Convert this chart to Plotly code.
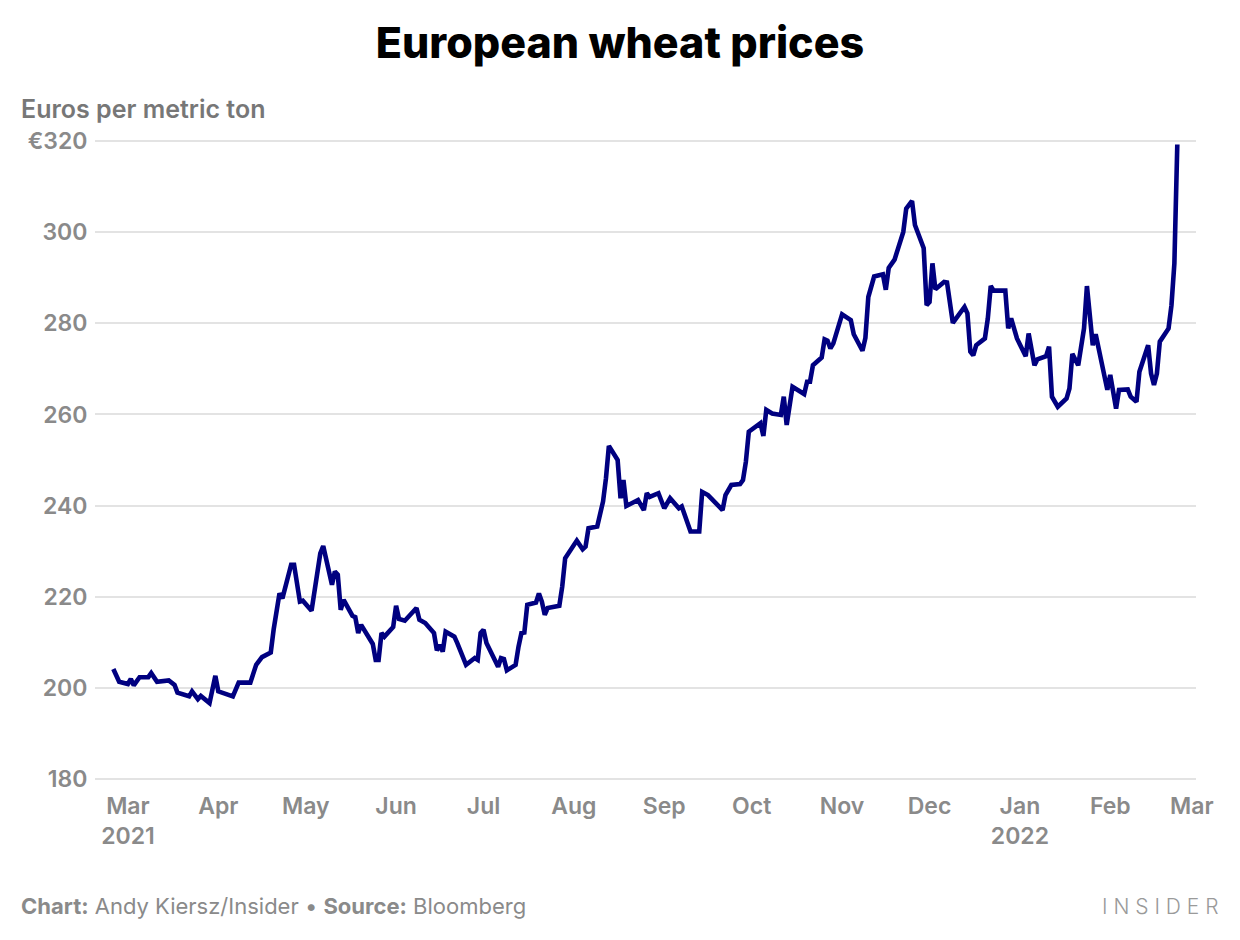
import plotly.graph_objects as go

dates = [
    "2021-02-24", "2021-02-26", "2021-03-01", "2021-03-02", "2021-03-03", "2021-03-05",
    "2021-03-08", "2021-03-09", "2021-03-11", "2021-03-15", "2021-03-17", "2021-03-18",
    "2021-03-22", "2021-03-23", "2021-03-25", "2021-03-26", "2021-03-29", "2021-03-31",
    "2021-04-01", "2021-04-06", "2021-04-08", "2021-04-12", "2021-04-14", "2021-04-16",
    "2021-04-19", "2021-04-20", "2021-04-22", "2021-04-23", "2021-04-26", "2021-04-27",
    "2021-04-29", "2021-04-30", "2021-05-03", "2021-05-06", "2021-05-07", "2021-05-10",
    "2021-05-11", "2021-05-12", "2021-05-13", "2021-05-14", "2021-05-17", "2021-05-18",
    "2021-05-19", "2021-05-20", "2021-05-24", "2021-05-25", "2021-05-26", "2021-05-27",
    "2021-05-28", "2021-05-31", "2021-06-01", "2021-06-02", "2021-06-04", "2021-06-08",
    "2021-06-09", "2021-06-11", "2021-06-14", "2021-06-15", "2021-06-16", "2021-06-17",
    "2021-06-18", "2021-06-21", "2021-06-22", "2021-06-25", "2021-06-28", "2021-06-29",
    "2021-06-30", "2021-07-01", "2021-07-02", "2021-07-06", "2021-07-07", "2021-07-08",
    "2021-07-09", "2021-07-12", "2021-07-13", "2021-07-14", "2021-07-15", "2021-07-16",
    "2021-07-19", "2021-07-20", "2021-07-21", "2021-07-22", "2021-07-23", "2021-07-27",
    "2021-07-28", "2021-07-29", "2021-08-02", "2021-08-04", "2021-08-05", "2021-08-06",
    "2021-08-09", "2021-08-10", "2021-08-11", "2021-08-12", "2021-08-13", "2021-08-16",
    "2021-08-17", "2021-08-18", "2021-08-19", "2021-08-23", "2021-08-25", "2021-08-26",
    "2021-08-27", "2021-08-30", "2021-09-01", "2021-09-03", "2021-09-06", "2021-09-07",
    "2021-09-10", "2021-09-13", "2021-09-14", "2021-09-16", "2021-09-21", "2021-09-22",
    "2021-09-24", "2021-09-27", "2021-09-28", "2021-09-29", "2021-09-30", "2021-10-04",
    "2021-10-05", "2021-10-06", "2021-10-08", "2021-10-11", "2021-10-12", "2021-10-13",
    "2021-10-15", "2021-10-19", "2021-10-20", "2021-10-21", "2021-10-22", "2021-10-25",
    "2021-10-26", "2021-10-27", "2021-10-28", "2021-10-29", "2021-11-01", "2021-11-04",
    "2021-11-05", "2021-11-08", "2021-11-09", "2021-11-10", "2021-11-12", "2021-11-15",
    "2021-11-16", "2021-11-17", "2021-11-19", "2021-11-22", "2021-11-23", "2021-11-25",
    "2021-11-26", "2021-11-29", "2021-11-30", "2021-12-01", "2021-12-02", "2021-12-03",
    "2021-12-06", "2021-12-07", "2021-12-09", "2021-12-13", "2021-12-14", "2021-12-15",
    "2021-12-16", "2021-12-17", "2021-12-20", "2021-12-21", "2021-12-22", "2021-12-23",
    "2021-12-27", "2021-12-28", "2021-12-29", "2021-12-31", "2022-01-03", "2022-01-04",
    "2022-01-06", "2022-01-07", "2022-01-10", "2022-01-11", "2022-01-12", "2022-01-14",
    "2022-01-17", "2022-01-18", "2022-01-19", "2022-01-21", "2022-01-23", "2022-01-24",
    "2022-01-26", "2022-01-27", "2022-01-31", "2022-02-01", "2022-02-03", "2022-02-04",
    "2022-02-07", "2022-02-08", "2022-02-10", "2022-02-11", "2022-02-14", "2022-02-15",
    "2022-02-16", "2022-02-17", "2022-02-18", "2022-02-21", "2022-02-22", "2022-02-23",
    "2022-02-24",
]

prices = [
    204.1, 201.3, 200.8, 201.9, 200.5, 202.3,
    202.3, 203.2, 201.3, 201.6, 200.6, 198.9,
    198.1, 199.2, 197.5, 198.2, 196.6, 202.6,
    199.2, 198.1, 201.1, 201.1, 205.0, 206.7,
    207.7, 212.8, 220.7, 219.6, 227.0, 227.0,
    218.9, 219.1, 216.9, 229.5, 231.1, 222.6,
    225.5, 224.8, 217.1, 219.3, 215.8, 215.5,
    212.0, 213.8, 209.6, 206.1, 206.1, 212.0,
    211.2, 213.3, 218.0, 215.1, 214.7, 217.5,
    214.9, 214.2, 212.0, 208.2, 209.4, 207.9,
    212.3, 211.2, 209.8, 205.0, 206.5, 206.1,
    212.0, 212.7, 209.8, 204.6, 206.5, 206.3,
    203.8, 205.0, 209.0, 212.0, 212.1, 218.2,
    218.7, 220.7, 218.9, 216.0, 217.5, 218.0,
    222.2, 228.4, 232.3, 230.4, 231.0, 235.0,
    235.4, 238.7, 240.9, 246.0, 253.1, 250.0,
    241.6, 245.6, 239.9, 241.2, 239.0, 242.7,
    241.9, 242.7, 239.4, 241.6, 239.4, 239.8,
    234.3, 234.3, 243.0, 242.3, 239.0, 242.3,
    244.5, 244.7, 245.6, 249.6, 256.2, 258.1,
    255.3, 261.0, 260.2, 259.9, 263.9, 257.7,
    266.1, 264.5, 267.2, 267.2, 270.8, 272.5,
    276.5, 276.2, 274.5, 275.6, 282.0, 280.7,
    277.6, 274.0, 276.8, 285.8, 290.3, 290.8,
    287.4, 292.2, 294.0, 300.1, 305.2, 306.9,
    301.6, 296.5, 284.0, 284.7, 293.2, 287.5,
    289.1, 289.0, 280.1, 283.6, 282.2, 273.8,
    273.0, 275.2, 276.7, 281.1, 288.2, 287.2,
    287.2, 278.9, 281.1, 276.7, 272.8, 277.8,
    270.8, 272.1, 272.8, 274.9, 263.9, 261.7,
    263.5, 265.7, 273.3, 270.8, 278.9, 288.2,
    275.2, 277.6, 265.4, 268.7, 261.3, 265.4,
    265.5, 263.9, 262.8, 269.4, 275.2, 269.0,
    266.5, 269.0, 276.0, 278.9, 284.0, 293.2,
    319.3,
]

y_tick_values = [180, 200, 220, 240, 260, 280, 300, 320]
y_tick_labels = ["180", "200", "220", "240", "260", "280", "300", "€320"]

x_tick_values = [
    "2021-03-01", "2021-04-01", "2021-05-01", "2021-06-01", "2021-07-01",
    "2021-08-01", "2021-09-01", "2021-10-01", "2021-11-01", "2021-12-01",
    "2022-01-01", "2022-02-01", "2022-03-01",
]
x_tick_labels = [
    "Mar<br>2021", "Apr", "May", "Jun", "Jul", "Aug", "Sep", "Oct", "Nov",
    "Dec", "Jan<br>2022", "Feb", "Mar",
]

GRAY = "#8a8a8a"
FONT = "Inter"

fig = go.Figure()
fig.add_trace(go.Scatter(
    x=dates, y=prices, mode="lines",
    line=dict(color="#000080", width=4.6),
    hoverinfo="skip",
))

fig.update_layout(
    width=1240, height=940,
    paper_bgcolor="white", plot_bgcolor="white",
    margin=dict(l=87, r=52, t=131, b=167),
    showlegend=False,
    font=dict(family=FONT, color=GRAY),
    title=dict(
        text="European wheat prices",
        x=0.4935, xanchor="center", xref="container",
        y=0.9628, yref="container", yanchor="middle",
        font=dict(family=FONT, size=43, color="#000000", weight=800),
    ),
    xaxis=dict(
        type="date",
        range=["2021-02-17 17:00", "2022-03-02 10:00"],
        tickvals=x_tick_values, ticktext=x_tick_labels,
        tickfont=dict(family=FONT, size=23, color=GRAY, weight=600),
        ticks="outside", ticklen=4, tickcolor="rgba(0,0,0,0)",
        showgrid=False, zeroline=False, showline=False,
    ),
    yaxis=dict(
        range=[179.5, 320.5],
        tickvals=y_tick_values, ticktext=y_tick_labels,
        tickfont=dict(family=FONT, size=23, color=GRAY, weight=600),
        ticks="outside", ticklen=2, tickcolor="rgba(0,0,0,0)",
        showgrid=True, gridcolor="#e3e3e3", gridwidth=1.5,
        zeroline=False, showline=False,
    ),
)

fig.add_annotation(
    text="Euros per metric ton", xref="paper", yref="paper",
    x=-0.069, y=1.0469, xanchor="left", yanchor="middle",
    showarrow=False, font=dict(family=FONT, size=25, color="#777777", weight=600),
)

fig.add_annotation(
    text="<b>Chart:</b> Andy Kiersz/Insider • <b>Source:</b> Bloomberg",
    xref="paper", yref="paper", x=-0.069, y=-0.1953, xanchor="left", yanchor="middle",
    showarrow=False,
    font=dict(family=FONT, size=22, color=GRAY),
)

fig.add_annotation(
    text="I N S I D E R",
    xref="paper", yref="paper", x=1.0227, y=-0.1953, xanchor="right", yanchor="middle",
    showarrow=False, font=dict(family=FONT, size=21, color="#9a9a9a", weight=300),
)

fig.write_html("out.html")
